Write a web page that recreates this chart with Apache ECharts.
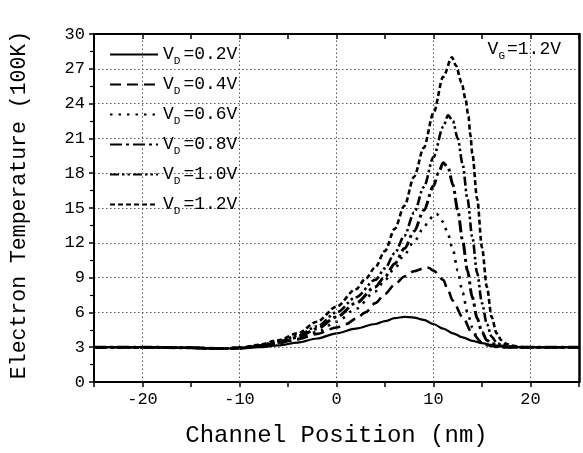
<!DOCTYPE html>
<html>
<head>
<meta charset="utf-8">
<script src="https://cdn.jsdelivr.net/npm/echarts@6/dist/echarts.min.js"></script>
<style>
html,body{margin:0;padding:0;background:#fff;}
#chart{width:583px;height:453px;}
</style>
</head>
<body>
<div id="chart"></div>
<script>
// ---- data ----
var seriesNames = ['VD=0.2V','VD=0.4V','VD=0.6V','VD=0.8V','VD=1.0V','VD=1.2V'];

var x02 = [-25,-20,-15,-12,-10,-8,-6,-4,-2,0,2,4,5,6,7,8,9,10,11,12,13,14,15,16,17,18,20,25];
var y02 = [3,3,2.95,2.88,2.9,3.0,3.15,3.4,3.75,4.2,4.6,5.0,5.25,5.5,5.62,5.55,5.35,5.0,4.6,4.2,3.85,3.55,3.35,3.2,3.08,3.02,3,3];

var x04 = [-25,-20,-15,-12,-10,-8,-6,-4,-2,0,1,2,3,4,5,6,7,8,9,9.5,10,11,11.5,12,13,14,15,16,17,18,20,25];
var y04 = [3,3,2.95,2.88,2.95,3.1,3.35,3.7,4.15,4.7,5.0,5.45,6.0,6.8,7.6,8.4,9.1,9.55,9.8,9.85,9.6,8.8,7.9,7.0,5.6,4.2,3.4,3.1,3.0,2.97,3,3];

var x06 = [-25,-20,-15,-12,-10,-8,-6,-4,-2,0,2,4,5,6,7,8,9,9.5,10,10.3,11,11.5,12,12.5,13,13.5,14,14.5,15,16,17,18,20,25];
var y06 = [3,3,2.95,2.88,2.92,3.05,3.3,3.7,4.3,5.2,6.3,7.8,8.8,9.8,11.0,12.1,13.3,13.9,14.4,14.5,13.8,12.7,11.4,9.6,7.7,6.0,4.7,3.8,3.3,3.05,2.98,3,3,3];

var x08 = [-25,-20,-15,-12,-10,-8,-6,-4,-2,0,2,4,5,6,7,8,9,10,10.5,11,11.5,12,12.5,13,13.5,14,14.5,15,15.5,16,17,18,20,25];
var y08 = [3,3,2.95,2.88,2.93,3.1,3.4,3.85,4.6,5.6,6.8,8.2,9.1,10.2,11.5,13.0,14.8,16.9,18.0,18.9,18.5,17.0,14.8,12.2,9.6,7.3,5.5,4.3,3.6,3.3,3.1,3.0,3,3];

var x10 = [-25,-20,-15,-12,-10,-8,-6,-4,-2,0,2,4,5,6,7,8,9,10,11,11.5,12,12.5,13,13.5,14,14.5,15,15.5,16,16.5,17,18,20,25];
var y10 = [3,3,2.95,2.88,2.94,3.15,3.5,4.0,4.8,6.0,7.3,8.8,9.8,11.1,12.6,14.6,16.8,19.4,22.0,23.0,22.5,21.0,18.8,15.8,12.5,9.4,6.8,5.0,3.9,3.4,3.2,3.05,3,3];

var x12 = [-25,-20,-15,-12,-10,-8,-6,-4,-2,0,2,3,4,5,6,7,8,9,10,11,11.9,12.3,12.9,13.3,13.6,13.8,14,14.5,15,15.5,16,16.5,17,17.5,18,19,20,25];
var y12 = [3,3,2.95,2.88,2.95,3.2,3.6,4.2,5.2,6.5,8.0,8.9,9.9,11.3,13.2,15.2,17.7,20.2,23.2,26.3,28.0,27.3,25.8,24.4,22.9,21.3,19.7,15.8,11.6,8.2,5.6,4.2,3.6,3.3,3.15,3.0,3,3];

var xTickLabels = ['-20','-10','0','10','20'];
var yTickLabels = ['0','3','6','9','12','15','18','21','24','27','30'];
var gridXValues = [-20,-10,0,10,20];

// ---- build ----
function pairs(xs, ys){ var out=[]; for(var i=0;i<xs.length;i++) out.push([xs[i], ys[i]]); return out; }
var allX = [x02,x04,x06,x08,x10,x12];
var allY = [y02,y04,y06,y08,y10,y12];
var styles = [
  {width:2.2, type:'solid'},
  {width:2.6, type:[11,6]},
  {width:2.6, type:[2.5,6]},
  {width:3.0, type:[12,4,3,4]},
  {width:2.6, type:[9,3,2.5,3,2.5,3]},
  {width:2.6, type:[5,3]}
];
var FONT = '"Liberation Mono", "DejaVu Sans Mono", monospace';

var series = seriesNames.map(function(n, i){
  var s = {
    name: n, type: 'line', data: pairs(allX[i], allY[i]),
    showSymbol: false, symbol: 'none', smooth: 0.3, smoothMonotone: 'x',
    lineStyle: {color:'#000', width: styles[i].width, type: styles[i].type, cap:'butt'},
    itemStyle: {color:'#000'},
    z: 3
  };
  if (i === 0) {
    s.markLine = {
      silent: true, symbol: 'none', animation: false,
      label: {show:false},
      lineStyle: {color:'#555', type:[1.5,2.5], width:1},
      data: gridXValues.map(function(v){ return {xAxis: v}; })
    };
  }
  return s;
});

var chart = echarts.init(document.getElementById('chart'), null, {renderer:'canvas'});
chart.setOption({
  animation: false,
  backgroundColor: '#fff',
  grid: {left: 93, right: 4, top: 34, bottom: 69},
  legend: {
    orient: 'vertical', left: 104, top: 38,
    itemWidth: 48, itemHeight: 14, itemGap: 6,
    data: seriesNames,
    selectedMode: false,
    itemStyle: {opacity: 0},
    formatter: function(name){
      return '{v|V}{s|D}{t|' + name.slice(2) + '}';
    },
    textStyle: {
      fontFamily: FONT, color:'#000', lineHeight: 23,
      rich: {
        v: {fontFamily: FONT, fontSize: 18, color:'#000'},
        s: {fontFamily: FONT, fontSize: 11, color:'#000', padding:[14,3,0,0]},
        t: {fontFamily: FONT, fontSize: 18, color:'#000'}
      }
    }
  },
  graphic: [{
    type: 'text', right: 22, top: 40,
    style: {
      text: '{v|V}{s|G}{t|=1.2V}',
      rich: {
        v: {fontFamily: FONT, fontSize: 18, fill:'#000'},
        s: {fontFamily: FONT, fontSize: 11, fill:'#000', padding:[14,2,0,0]},
        t: {fontFamily: FONT, fontSize: 18, fill:'#000'}
      }
    }
  }],
  xAxis: [{
    type: 'value', min: -25, max: 25, interval: 5,
    name: 'Channel Position (nm)', nameLocation: 'middle', nameGap: 42,
    nameTextStyle: {fontFamily: FONT, fontSize: 24, color:'#000'},
    axisLine: {show:true, onZero:false, lineStyle:{color:'#000', width:2}},
    axisTick: {show:true, length:5, inside:false, lineStyle:{color:'#000', width:1.5}},
    axisLabel: {fontFamily: FONT, fontSize: 17, color:'#000', margin: 9,
      formatter: function(v){ var s = String(v); return xTickLabels.indexOf(s) >= 0 ? s : ''; }},
    splitLine: {show:false}
  },{
    type: 'value', position: 'top', min: -25, max: 25, interval: 5,
    axisLine: {show:true, onZero:false, lineStyle:{color:'#000', width:2}},
    axisTick: {show:true, inside:true, length:5, lineStyle:{color:'#000', width:1.5}},
    axisLabel: {show:false}, splitLine: {show:false}
  }],
  yAxis: [{
    type: 'value', min: 0, max: 30, interval: 3,
    name: 'Electron Temperature (100K)', nameLocation: 'middle', nameGap: 64, nameRotate: 90,
    nameTextStyle: {fontFamily: FONT, fontSize: 21.5, color:'#000', padding:[0,0,0,6]},
    axisLine: {show:true, onZero:false, lineStyle:{color:'#000', width:2}},
    axisTick: {show:true, length:5, lineStyle:{color:'#000', width:1.5}},
    minorTick: {show:true, splitNumber:2, length:4, lineStyle:{color:'#000', width:1.2}},
    axisLabel: {fontFamily: FONT, fontSize: 17, color:'#000', margin: 9,
      formatter: function(v){ var s = String(v); return yTickLabels.indexOf(s) >= 0 ? s : ''; }},
    splitLine: {show:true, lineStyle:{color:'#555', type:[1.5,2.5], width:1}}
  },{
    type: 'value', position: 'right', min: 0, max: 30, interval: 3,
    axisLine: {show:true, onZero:false, lineStyle:{color:'#000', width:2.5}},
    axisTick: {show:false}, axisLabel: {show:false}, splitLine: {show:false}
  }],
  series: series
});
</script>
</body>
</html>
